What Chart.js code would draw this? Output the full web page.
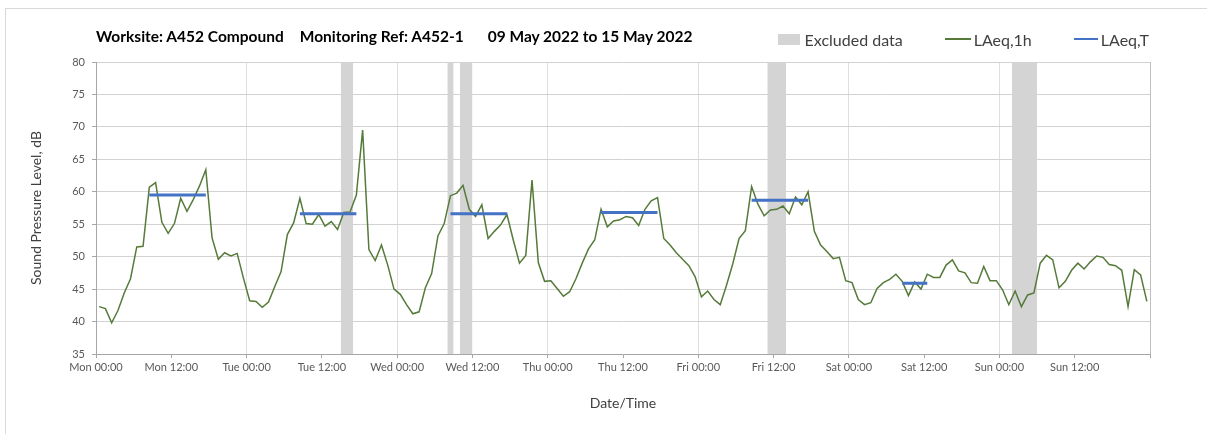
<!DOCTYPE html>
<html>
<head>
<meta charset="utf-8">
<script src="https://cdn.jsdelivr.net/npm/chart.js@4.4.1/dist/chart.umd.min.js"></script>
<style>
  html,body{margin:0;padding:0;background:#fff;}
  body{width:1207px;height:434px;overflow:hidden;position:relative;font-family:Lato,'Open Sans',sans-serif;}
  .frame{position:absolute;left:5px;top:8px;width:1215px;height:440px;border:1px solid #d9d9d9;}
  .wrap{position:absolute;left:0;top:0;width:1207px;height:434px;}
  .head{position:absolute;left:96px;top:25px;width:1054px;height:22px;display:flex;align-items:center;}
  .title{font-weight:bold;font-size:15.5px;color:#000;white-space:nowrap;}
  .title span + span{margin-left:16px;}
  .title span.date{margin-left:24px;}
  .legend{margin-left:auto;display:flex;align-items:center;gap:42px;font-size:16px;color:#404040;position:relative;top:3px;left:-1px;}
  .item{display:flex;align-items:center;}
  .sw{display:inline-block;margin-right:3px;}
</style>
</head>
<body>
<div class="frame"></div>
<div class="wrap"><canvas id="c"></canvas></div>
<div class="head">
  <span class="title"><span>Worksite: A452 Compound</span><span>Monitoring Ref: A452-1</span><span class="date">09 May 2022 to 15 May 2022</span></span>
  <div class="legend">
    <span class="item"><span class="sw" id="swEx"></span>Excluded data</span>
    <span class="item"><span class="sw" id="sw1h"></span>LAeq,1h</span>
    <span class="item"><span class="sw" id="swT"></span>LAeq,T</span>
  </div>
</div>
<script>
// hours since Mon 00:00, ticks every 12 h
const tickLabels = ['Mon 00:00','Mon 12:00','Tue 00:00','Tue 12:00','Wed 00:00','Wed 12:00','Thu 00:00',
  'Thu 12:00','Fri 00:00','Fri 12:00','Sat 00:00','Sat 12:00','Sun 00:00','Sun 12:00'];

// hourly LAeq,1h, dB (168 hours, Mon 00:00 -> Sun 24:00)
const laeq1h = [
  42.3,42.0,39.8,41.7,44.4,46.6,51.5,51.6,60.7,61.4,55.3,53.6,55.1,59.0,57.0,58.8,60.9,63.4,52.9,49.6,50.6,50.1,50.5,46.7,
  43.2,43.1,42.2,43.0,45.4,47.7,53.4,55.2,59.0,55.1,55.0,56.5,54.7,55.4,54.2,56.8,56.9,59.5,69.5,51.1,49.4,51.8,48.7,45.0,
  44.2,42.6,41.2,41.5,45.2,47.4,53.2,55.1,59.4,59.8,61.0,57.3,56.2,58.0,52.8,53.9,54.9,56.5,52.6,49.0,50.2,61.8,49.1,46.2,
  46.3,45.1,43.9,44.6,46.6,49.0,51.2,52.6,57.3,54.6,55.5,55.7,56.2,56.0,54.8,57.3,58.6,59.1,52.8,51.8,50.6,49.6,48.6,46.9,
  43.8,44.7,43.4,42.6,45.6,48.9,52.8,54.0,60.8,58.1,56.3,57.2,57.3,57.8,56.6,59.2,58.0,60.0,53.9,51.8,50.8,49.7,49.9,46.3,
  46.0,43.4,42.6,42.9,45.1,46.0,46.5,47.3,46.2,44.0,46.1,45.0,47.3,46.8,46.8,48.7,49.5,47.8,47.5,46.0,45.9,48.5,46.3,46.3,
  44.9,42.6,44.7,42.3,44.1,44.4,49.0,50.2,49.5,45.2,46.2,47.9,49.0,48.1,49.2,50.1,49.9,48.8,48.6,47.9,42.3,48.0,47.2,43.1
];

// LAeq,T daytime periods (start/end hour) and level
const periodStart = [8, 32, 56, 80, 104, 128];
const periodEnd   = [18, 42, 66, 90, 114, 133];
const laeqT       = [59.5, 56.6, 56.6, 56.8, 58.7, 45.9];

// excluded data periods (start/end hour)
const excludedStart = [39, 56, 58, 107, 146];
const excludedEnd   = [41, 57, 60, 110, 150];

const yMin = 35, yMax = 80;

const col = { green:'#557a39', blue:'#4472c4', excl:'#d4d4d4', grid:'#d2d2d2', axis:'#a6a6a6', tick:'#595959', label:'#404040' };

document.getElementById('swEx').style.cssText = `width:22px;height:11px;background:${col.excl};margin-right:5px`;
document.getElementById('sw1h').style.cssText = `width:26px;height:1.5px;background:${col.green}`;
document.getElementById('swT').style.cssText = `width:24px;height:2.5px;background:${col.blue}`;

Chart.defaults.font.family = "Lato, 'Open Sans', sans-serif";

const hourly = laeq1h.map((v, i) => ({ x: i + 0.5, y: v }));   // plotted at the hour centre
const periods = periodStart.flatMap((s, i) => [
  { x: s + 0.5, y: laeqT[i] }, { x: periodEnd[i] - 0.5, y: laeqT[i] }, { x: periodEnd[i], y: null }
]);
const bands = excludedStart.map((s, i) => ({
  label: 'Excluded data',
  data: [{ x: s, y: yMax }, { x: excludedEnd[i], y: yMax }],
  fill: 'start', backgroundColor: col.excl, borderWidth: 0, pointRadius: 0
}));

new Chart(document.getElementById('c'), {
  type: 'line',
  data: {
    datasets: [
      { label: 'LAeq,T', data: periods, borderColor: col.blue, borderWidth: 3, pointRadius: 0, spanGaps: false },
      { label: 'LAeq,1h', data: hourly, borderColor: col.green, borderWidth: 1.5, pointRadius: 0, tension: 0 },
      ...bands
    ]
  },
  options: {
    responsive: true,
    maintainAspectRatio: false,
    animation: false,
    events: [],
    layout: { padding: { top: 62, right: 57, left: 0, bottom: 0 } },
    plugins: { legend: { display: false }, tooltip: { enabled: false } },
    scales: {
      x: {
        type: 'linear', min: 0, max: 168,
        border: { color: col.axis },
        grid: {
          color: c => c.tick.value === 168 ? '#bfbfbf' : (c.tick.value % 24 === 0 ? '#dedede' : 'transparent'),
          tickColor: col.axis, tickLength: 4
        },
        ticks: { stepSize: 12, autoSkip: false, maxRotation: 0, color: col.tick, font: { size: 11 }, padding: 3,
                 callback: v => tickLabels[v / 12] ?? '' },
        title: { display: true, text: 'Date/Time', color: col.label, font: { size: 14 }, padding: { top: 0, bottom: 22 } },
        afterFit: s => { s.height = 80; }
      },
      y: {
        min: yMin, max: yMax,
        border: { color: col.axis },
        grid: { color: col.grid, tickColor: col.axis, tickLength: 4 },
        ticks: { stepSize: 5, color: col.tick, font: { size: 11 }, padding: 7 },
        title: { display: true, text: 'Sound Pressure Level, dB', color: col.label, font: { size: 14 }, padding: { top: 28, bottom: 0 } },
        afterFit: s => { s.width = 96; }
      }
    }
  }
});
</script>
</body>
</html>
